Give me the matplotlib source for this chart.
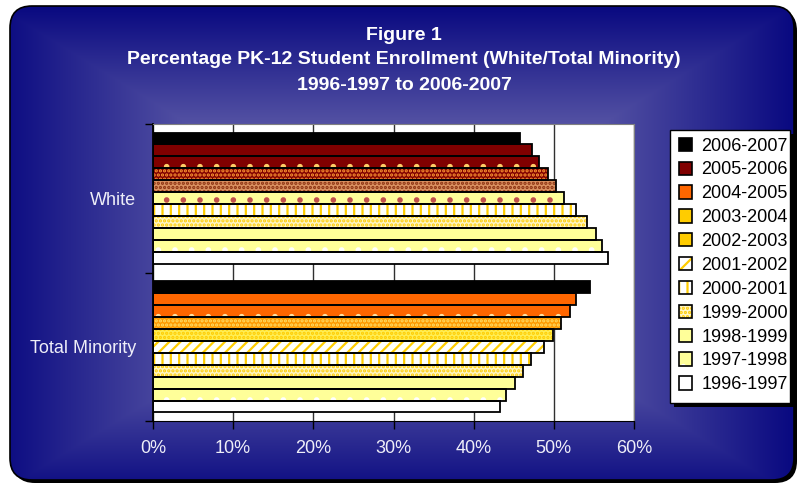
import numpy as np
import matplotlib
matplotlib.use('Agg')
import matplotlib.pyplot as plt
from matplotlib.patches import FancyBboxPatch, Patch, Rectangle

# data, ordered 1996-1997 -> 2006-2007
years = ['1996-1997', '1997-1998', '1998-1999', '1999-2000', '2000-2001', '2001-2002',
         '2002-2003', '2003-2004', '2004-2005', '2005-2006', '2006-2007']
white = [56.7, 56.0, 55.2, 54.1, 52.8, 51.3, 50.3, 49.3, 48.2, 47.3, 45.8]
minority = [43.3, 44.0, 45.1, 46.2, 47.2, 48.8, 49.9, 50.9, 52.0, 52.8, 54.5]
categories = ['Total Minority', 'White']
xticks = [0, 10, 20, 30, 40, 50, 60]

# fill styles (face, hatch, hatch colour) per year for each group
white_style = [('white', None, None), ('#ffff99', '.', 'white'), ('#ffff99', None, None),
               ('#fff6c8', '....', '#ffcc00'), ('white', '||', '#ffcc00'),
               ('#ffff99', '.', '#c0504d'), ('#d99060', '....', '#8b3010'),
               ('#800000', '....', '#ff9933'), ('#800000', '.', '#ffcc66'),
               ('#800000', None, None), ('black', None, None)]
minority_style = [('white', None, None), ('#ffff99', '.', 'white'), ('#ffff99', None, None),
                  ('#fff6c8', '....', '#ffcc00'), ('white', '||', '#ffcc00'),
                  ('white', '///', '#ffcc00'), ('#ffee55', '....', '#ffcc00'),
                  ('#ff9900', '....', '#ffdd66'), ('#ff6600', '.', '#ffe0a0'),
                  ('#ff6600', None, None), ('black', None, None)]
legend_style = [('white', None, None), ('#ffff99', '.', 'white'), ('#ffff99', None, None),
                ('#fff6c8', '....', '#ffcc00'), ('white', '||', '#ffcc00'),
                ('white', '//', '#ffcc00'), ('#ffcc00', None, None),
                ('#ffcc00', None, None), ('#ff6600', None, None),
                ('#800000', None, None), ('black', None, None)]

plt.rcParams['font.family'] = ['Liberation Sans', 'DejaVu Sans']
plt.rcParams['hatch.linewidth'] = 1.6

W, H = 799, 487
fig = plt.figure(figsize=(W / 100, H / 100), dpi=100)
fig.patch.set_facecolor('white')

# background panel with rectangular "from centre" gradient
bg = fig.add_axes([0, 0, 1, 1])
bg.set_xlim(0, W)
bg.set_ylim(H, 0)
bg.axis('off')
shadow = FancyBboxPatch((13, 9), 784, 474, boxstyle='round,pad=0,rounding_size=22',
                        fc='black', ec='black', lw=0)
bg.add_patch(shadow)
frame = FancyBboxPatch((10, 6), 784, 474, boxstyle='round,pad=0,rounding_size=22',
                       fc='none', ec='black', lw=1.2)
bg.add_patch(frame)
yy, xx = np.mgrid[0:H, 0:W]
t = np.maximum(np.abs(xx - 395) / 400.0, np.abs(yy - 250) / 245.0)
t = np.clip(t, 0, 1) ** 1.1
c0 = np.array([0x9a, 0x96, 0xc4]) / 255
c1 = np.array([0x08, 0x08, 0x80]) / 255
img = c0[None, None, :] * (1 - t[..., None]) + c1[None, None, :] * t[..., None]
im = bg.imshow(img, extent=(0, W, H, 0), zorder=1)
im.set_clip_path(frame)
frame.set_zorder(2)

fig.text(404 / W, 1 - 35 / H, 'Figure 1', ha='center', va='center',
         color='white', fontsize=14, fontweight='bold')
fig.text(404 / W, 1 - 60 / H, 'Percentage PK-12 Student Enrollment (White/Total Minority)',
         ha='center', va='center', color='white', fontsize=14, fontweight='bold')
fig.text(404 / W, 1 - 85 / H, '1996-1997 to 2006-2007', ha='center', va='center',
         color='white', fontsize=14, fontweight='bold')

# plot area
ax = fig.add_axes([153 / W, 1 - 421 / H, 481 / W, 297 / H])
ax.set_facecolor('white')
n = len(years)
group = 0.885
bh = group / n
for ci, (vals, styles) in enumerate([(minority, minority_style), (white, white_style)]):
    for i in range(n):
        # 1996 at bottom of the group, 2006 at top
        y = ci - group / 2 + bh * (i + 0.5)
        face, hatch, hc = styles[i]
        ax.barh(y, vals[i], height=bh, color=face, edgecolor=hc if hc else face,
                hatch=hatch, lw=0, zorder=2)
        ax.barh(y, vals[i], height=bh, facecolor='none', edgecolor='black', lw=1.3, zorder=3)

ax.set_xlim(0, 60)
ax.set_ylim(-0.5, 1.5)
ax.set_xticks(xticks)
ax.set_xticklabels([f'{v}%' for v in xticks])
ax.xaxis.grid(True, color='#303030', lw=1.0, zorder=0)
ax.set_axisbelow(True)
ax.set_yticks([-0.5, 0.5, 1.5])
ax.set_yticklabels([])
ax.set_yticks([0, 1], minor=True)
ax.set_yticklabels(categories, minor=True)
ax.tick_params(axis='y', which='minor', length=0, pad=12, labelsize=13, labelcolor='#eeeef8')
ax.tick_params(axis='y', which='major', length=6, width=1, color='black', direction='out')
ax.tick_params(axis='x', length=6, width=1, color='black', direction='out', pad=8,
               labelsize=13, labelcolor='#eeeef8')
for s in ['top', 'right']:
    ax.spines[s].set_color('#808080')
for s in ['left', 'bottom']:
    ax.spines[s].set_color('black')
ax.spines['left'].set_linewidth(1.3)

# legend box with shadow
bg.add_patch(Rectangle((674, 134), 120, 273, fc='black', ec='none', zorder=5))
bg.add_patch(Rectangle((670, 130), 120, 273, fc='white', ec='black', lw=1, zorder=6))
handles = []
for face, hatch, hc in legend_style[::-1]:
    p1 = Patch(facecolor=face, edgecolor=hc if hc else face, hatch=hatch, lw=0)
    p2 = Patch(facecolor='none', edgecolor='black', lw=1.2)
    handles.append((p1, p2))
leg = fig.legend(handles, years[::-1], loc='upper left',
                 bbox_to_anchor=(675 / W, 1 - 134 / H), frameon=False, fontsize=13,
                 handlelength=0.75, handleheight=0.75, handletextpad=0.5,
                 labelspacing=0.38, borderaxespad=0, borderpad=0.2)
leg.set_zorder(7)

fig.savefig('out.png', dpi=100, facecolor='white')
